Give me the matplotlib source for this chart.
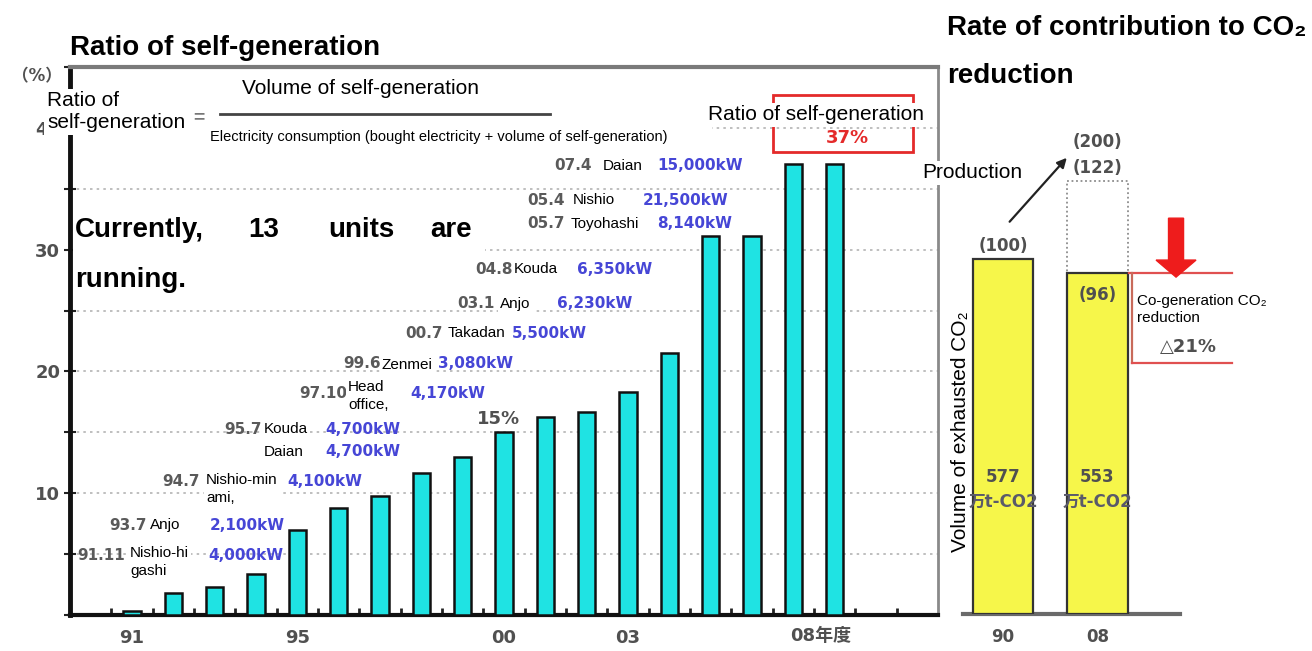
import matplotlib
matplotlib.use("Agg")
import matplotlib.pyplot as plt
from matplotlib.patches import Rectangle, FancyArrow
from matplotlib.ticker import MultipleLocator
import numpy as np

# ---------------- data ----------------
fiscal_years = list(range(1991, 2009))
self_gen_ratio = [0.3, 1.8, 2.3, 3.4, 7.0, 8.8, 9.8, 11.7, 13.0, 15.0,
                  16.3, 16.7, 18.3, 21.5, 31.1, 31.1, 37.0, 37.0]
year_tick_values = [1991, 1995, 2000, 2003]
year_tick_labels = ["91", "95", "00", "03"]
last_year = 2008
last_year_label = "08年度"
ratio_y_ticks = [10, 20, 30, 40]

plant_start = ["91.11", "93.7", "94.7", "95.7", "", "97.10", "99.6",
               "00.7", "03.1", "04.8", "05.7", "05.4", "07.4"]
plant_name = ["Nishio-hi\ngashi", "Anjo", "Nishio-min\nami,", "Kouda", "Daian",
              "Head\noffice,", "Zenmei", "Takadan", "Anjo", "Kouda",
              "Toyohashi", "Nishio", "Daian"]
plant_capacity = ["4,000kW", "2,100kW", "4,100kW", "4,700kW", "4,700kW",
                  "4,170kW", "3,080kW", "5,500kW", "6,230kW", "6,350kW",
                  "8,140kW", "21,500kW", "15,000kW"]

co2_categories = ["90", "08"]
co2_index = [100, 96]
co2_volume = ["577", "553"]
co2_unit = "万t-CO2"
co2_without_cogen = 122
production_index = 200
co2_reduction = "△21%"

# ---------------- layout (pixels) ----------------
W, H = 1312, 651
date_right = [125, 147, 200, 262, 0, 347, 381, 443, 495, 513, 565, 565, 592]
name_left = [130, 150, 206, 264, 264, 348, 382, 448, 500, 514, 571, 573, 603]
name_y = [562, 525, 489, 429, 452, 396, 365, 333, 304, 269, 224, 200, 166]
kw_left = [208, 210, 287, 325, 325, 410, 438, 512, 557, 577, 657, 643, 657]
row_y = [556, 525, 482, 429, 451, 393, 364, 333, 304, 270, 224, 200, 166]

GRAY = "#505050"
BLUE = "#4646d6"
RED = "#e42a2a"
NUM_FONT = ["DejaVu Sans", "Noto Sans CJK JP"]

plt.rcParams["font.family"] = ["Liberation Sans", "DejaVu Sans", "Noto Sans CJK JP"]


def fx(px):
    return px / W


def fy(py):
    return 1 - py / H


fig = plt.figure(figsize=(W / 100, H / 100), dpi=100)

# ---------------- left: ratio of self-generation ----------------
ax = fig.add_axes([fx(70), fy(615), (938 - 70) / W, (615 - 67) / H])
ax.bar(fiscal_years, self_gen_ratio, width=0.42, color="#1fe3e3",
       edgecolor="#111111", linewidth=1.8, zorder=3)
ax.set_xlim(1989.5, 2010.5)
ax.set_ylim(0, 45)
ax.set_yticks(ratio_y_ticks, labels=[str(v) for v in ratio_y_ticks])
ax.yaxis.set_minor_locator(MultipleLocator(5))
ax.set_xticks(year_tick_values, labels=year_tick_labels)
ax.set_xticks(np.arange(1990.5, 2010, 1.0), minor=True)
ax.tick_params(axis="y", which="both", direction="inout", length=8, width=1.5,
               color="#222222", labelsize=13, labelcolor=GRAY, pad=3)
ax.tick_params(axis="x", which="major", length=0, labelsize=13,
               labelcolor=GRAY, pad=10)
ax.tick_params(axis="x", which="minor", direction="in", length=5, width=2,
               color="#222222")
for lab in ax.get_xticklabels() + ax.get_yticklabels():
    lab.set_fontweight("bold")
    lab.set_family(NUM_FONT)
ax.yaxis.grid(True, which="both", color="#b4b4b4",
              linestyle=(0, (1.5, 2.5)), linewidth=1.2)
ax.set_axisbelow(True)
ax.spines["left"].set(linewidth=3.5, color="#111111")
ax.spines["bottom"].set(linewidth=3, color="#111111")
ax.spines["top"].set(linewidth=3, color="#7a7a7a")
ax.spines["right"].set(linewidth=2, color="#8a8a8a")

ax.annotate(last_year_label, xy=(last_year, 0),
            xycoords=("data", "axes fraction"), xytext=(-10, -15.3),
            textcoords="offset points", ha="center", va="center",
            fontsize=13, fontweight="bold", color=GRAY, family=NUM_FONT)

ax.annotate("15%", xy=(2000, self_gen_ratio[9]), xytext=(-4, 3),
            textcoords="offset points", ha="center", va="bottom",
            fontsize=13, fontweight="bold", color=GRAY, family=NUM_FONT)

# highlight box around the latest ratio
ax.add_patch(Rectangle((2006.5, 38.0), 3.4, 4.7, fill=False, edgecolor=RED,
                       linewidth=2, clip_on=False, zorder=5))
ax.text(2008.3, 39.2, f"{self_gen_ratio[-1]:.0f}%", ha="center",
        va="center", fontsize=13, fontweight="bold", color=RED,
        family=NUM_FONT, zorder=6)

# white panels behind the formula and the running-units note
fig.add_artist(Rectangle((fx(190), fy(150)), (712 - 190) / W, (150 - 72) / H,
                         transform=fig.transFigure, facecolor="white",
                         edgecolor="none", zorder=1))
fig.add_artist(Rectangle((fx(73), fy(296)), (485 - 73) / W, (296 - 203) / H,
                         transform=fig.transFigure, facecolor="white",
                         edgecolor="none", zorder=1))

# titles
fig.text(fx(70), fy(55), "Ratio of self-generation", fontsize=20,
         fontweight="bold", va="baseline", ha="left")
fig.text(fx(12), fy(76), "（%）", fontsize=12, fontweight="bold", color=GRAY,
         va="center", ha="left", family=NUM_FONT)

# formula
fig.text(fx(47), fy(112), "Ratio of\nself-generation", fontsize=15,
         ha="left", va="center", linespacing=1.2,
         bbox=dict(boxstyle="square,pad=0.12", facecolor="white",
                   edgecolor="none"), zorder=4)
fig.text(fx(199), fy(118), "=", fontsize=14, color="#777777", ha="center",
         va="center", fontweight="bold")
fig.text(fx(360), fy(88), "Volume of self-generation", fontsize=15,
         ha="center", va="center", zorder=4)
fig.add_artist(plt.Line2D([fx(220), fx(550)], [fy(114), fy(114)],
                          transform=fig.transFigure, color="#444444",
                          linewidth=2, zorder=3))
fig.text(fx(210), fy(137),
         "Electricity consumption (bought electricity + volume of self-generation)",
         fontsize=10.5, ha="left", va="center", zorder=4)

fig.text(fx(708), fy(115), "Ratio of self-generation", fontsize=15,
         ha="left", va="center",
         bbox=dict(boxstyle="square,pad=0.1", facecolor="white",
                   edgecolor="none"), zorder=4)

# running-units note
for word, x0 in zip(["Currently,", "13", "units", "are"], [75, 248, 328, 430]):
    fig.text(fx(x0), fy(237), word, fontsize=20, fontweight="bold",
             ha="left", va="baseline", zorder=4)
fig.text(fx(75), fy(287), "running.", fontsize=20, fontweight="bold",
         ha="left", va="baseline", zorder=4)

# plant start-up annotations
for i in range(len(plant_name)):
    if plant_start[i]:
        fig.text(fx(date_right[i]), fy(row_y[i]), plant_start[i], fontsize=11,
                 fontweight="bold", color="#5a5a5a", ha="right",
                 va="center", family=NUM_FONT, zorder=3)
    fig.text(fx(kw_left[i]), fy(row_y[i]), plant_capacity[i], fontsize=11,
             fontweight="bold", color=BLUE, ha="left", va="center",
             family=NUM_FONT, zorder=3)
    fig.text(fx(name_left[i]), fy(name_y[i]), plant_name[i], fontsize=11,
             ha="left", va="center", linespacing=1.35,
             bbox=dict(boxstyle="square,pad=0.15", facecolor="white",
                       edgecolor="none"), zorder=4)

# ---------------- right: contribution to CO2 reduction ----------------
BASE_PX, TOP_PX, PX_PER_UNIT = 614, 20, 3.55
ax2 = fig.add_axes([fx(945), fy(BASE_PX), (1310 - 945) / W,
                    (BASE_PX - TOP_PX) / H])
ax2.patch.set_visible(False)
ax2.set_xlim(-(1003 - 945) / 94.5, 1 + (1310 - 1097.5) / 94.5)
ax2.set_ylim(0, (BASE_PX - TOP_PX) / PX_PER_UNIT)
xpos = np.arange(len(co2_categories))
ax2.bar(xpos, co2_index, width=0.64, color="#f6f64a", edgecolor="#333333",
        linewidth=1.6, zorder=3)
ax2.bar(xpos[1], co2_without_cogen - co2_index[1], bottom=co2_index[1],
        width=0.64, fill=False, edgecolor="#8c8c8c",
        linestyle=(0, (1, 1.5)), linewidth=1.3, zorder=2)
for side in ["left", "right", "top"]:
    ax2.spines[side].set_visible(False)
ax2.spines["bottom"].set(linewidth=3, color="#6a6a6a")
ax2.spines["bottom"].set_bounds(-0.423, 1.873)
ax2.set_yticks([])
ax2.set_xticks(xpos, labels=co2_categories)
ax2.tick_params(axis="x", length=0, labelsize=12, labelcolor=GRAY, pad=10)
for lab in ax2.get_xticklabels():
    lab.set_fontweight("bold")
    lab.set_family(NUM_FONT)

lbl = dict(fontsize=12, fontweight="bold", color=GRAY, family=NUM_FONT,
           ha="center", textcoords="offset points")
ax2.annotate(f"({co2_index[0]})", xy=(0, co2_index[0]), xytext=(0, 3),
             va="bottom", **lbl)
ax2.annotate(f"({co2_index[1]})", xy=(1, co2_index[1]), xytext=(0, -9),
             va="top", **lbl)
ax2.annotate(f"({co2_without_cogen})", xy=(1, co2_without_cogen),
             xytext=(0, 3), va="bottom", **lbl)
ax2.text(0.995, 133.0, f"({production_index})", fontsize=12,
         fontweight="bold", color=GRAY, family=NUM_FONT, ha="center",
         va="center")
ax2.annotate("", xy=(0.675, 128.5), xytext=(0.07, 110.5),
             arrowprops=dict(arrowstyle="-|>", color="#222222", lw=1.6,
                             mutation_scale=14, shrinkA=0, shrinkB=0))

for i in xpos:
    ax2.text(i, 38.6, co2_volume[i], fontsize=12, fontweight="bold",
             color=GRAY, family=NUM_FONT, ha="center", va="center", zorder=4)
    ax2.text(i, 31.5, co2_unit, fontsize=12, fontweight="bold",
             color="#5a5a6a", family=NUM_FONT, ha="center", va="center",
             zorder=4)

# reduction bracket and arrow
bracket_bottom = 70.7
ax2.plot([1.33, 2.42], [co2_index[1], co2_index[1]], color="#e05050",
         lw=1.6, clip_on=False, zorder=4)
ax2.plot([1.365, 1.365], [co2_index[1], bracket_bottom], color="#c86a5a",
         lw=1.6, clip_on=False, zorder=4)
ax2.plot([1.365, 2.42], [bracket_bottom, bracket_bottom], color="#e05050",
         lw=1.6, clip_on=False, zorder=4)
ax2.add_patch(FancyArrow(1.831, 111.5, 0, -(111.5 - 94.9), width=0.159,
                         head_width=0.423, head_length=4.8,
                         length_includes_head=True, color="#ee1c1c",
                         clip_on=False, zorder=5))

fig.text(fx(947), fy(35), "Rate of contribution to CO₂", fontsize=20,
         fontweight="bold", ha="left", va="baseline")
fig.text(fx(947), fy(83), "reduction", fontsize=20, fontweight="bold",
         ha="left", va="baseline")
fig.text(fx(922), fy(173), "Production", fontsize=15, ha="left",
         va="center", bbox=dict(boxstyle="square,pad=0.1", facecolor="white",
                                edgecolor="none"), zorder=4)
fig.text(fx(961), fy(432), "Volume of exhausted CO₂", fontsize=15,
         rotation=90, ha="center", va="center", zorder=4)
fig.text(fx(1137), fy(294), "Co-generation CO₂\nreduction", fontsize=11,
         ha="left", va="top", linespacing=1.25, zorder=4)
fig.text(fx(1188), fy(347), co2_reduction, fontsize=13, fontweight="bold",
         color=GRAY, ha="center", va="center", family=NUM_FONT, zorder=4)

fig.savefig("out.png", dpi=100)
